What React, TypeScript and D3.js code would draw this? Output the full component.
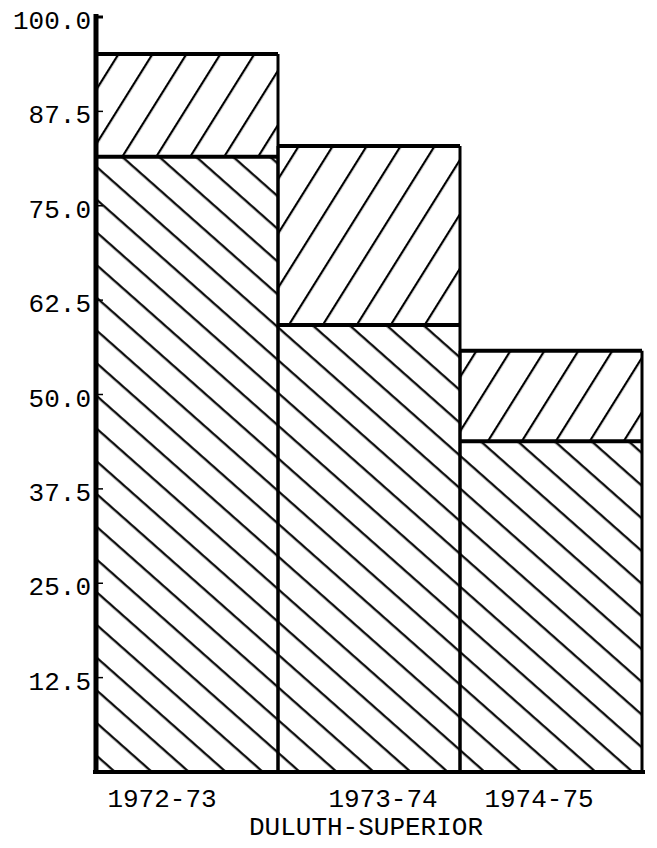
import React from 'react';
import * as d3 from 'd3';

// Duluth-Superior, three school years; lower block + upper block per bar
const categories = ['1972-73', '1973-74', '1974-75'];
const lowerValues = [81.5, 59.2, 43.8];
const totalValues = [95.1, 82.9, 55.8];
const tickValues = [12.5, 25.0, 37.5, 50.0, 62.5, 75.0, 87.5, 100.0];
const xTitle = 'DULUTH-SUPERIOR';

const W = 657;
const H = 848;
const margin = {top: 17, right: 15, bottom: 76, left: 96};
// label nudges, the typed labels were not centred under the bars
const labelShift = [-25, 14, -12];

const FONT = '"Liberation Mono", "DejaVu Sans Mono", monospace';

export default function App() {
  const x = d3
    .scaleBand<string>()
    .domain(categories)
    .range([margin.left, W - margin.right])
    .paddingInner(0)
    .paddingOuter(0);
  const y = d3
    .scaleLinear()
    .domain([0, 100])
    .range([H - margin.bottom, margin.top]);

  const base = y(0);

  return (
    <svg
      width={W}
      height={H}
      style={{position: 'absolute', left: 0, top: 0, background: '#fff'}}
    >
      <defs>
        <pattern
          id="hatch-back"
          patternUnits="userSpaceOnUse"
          width={24.5}
          height={24.5}
          patternTransform="rotate(41.5)"
        >
          <line x1={0} y1={12} x2={24.5} y2={12} stroke="#000" strokeWidth={2.2} />
        </pattern>
        <pattern
          id="hatch-fwd"
          patternUnits="userSpaceOnUse"
          width={28.8}
          height={28.8}
          patternTransform="rotate(-58)"
        >
          <line x1={0} y1={14} x2={28.8} y2={14} stroke="#000" strokeWidth={2.2} />
        </pattern>
      </defs>

      {/* bars */}
      {categories.map((c, i) => {
        const x0 = x(c) as number;
        const bw = x.bandwidth();
        const yl = y(lowerValues[i]);
        const yt = y(totalValues[i]);
        return (
          <g key={c}>
            <rect x={x0} y={yl} width={bw} height={base - yl} fill="url(#hatch-back)" />
            <rect x={x0} y={yt} width={bw} height={yl - yt} fill="url(#hatch-fwd)" />
            <line x1={x0} y1={yt} x2={x0} y2={base} stroke="#000" strokeWidth={3} />
            <line x1={x0 + bw} y1={yt} x2={x0 + bw} y2={base} stroke="#000" strokeWidth={3} />
            <line x1={x0} y1={yt} x2={x0 + bw} y2={yt} stroke="#000" strokeWidth={4} />
            <line x1={x0} y1={yl} x2={x0 + bw} y2={yl} stroke="#000" strokeWidth={4} />
          </g>
        );
      })}

      {/* axes */}
      <line
        x1={margin.left}
        y1={y(100) - 3}
        x2={margin.left}
        y2={base + 2}
        stroke="#000"
        strokeWidth={5}
      />
      <line
        x1={margin.left - 3}
        y1={base}
        x2={W - margin.right + 3}
        y2={base}
        stroke="#000"
        strokeWidth={4}
      />
      {tickValues.map((v) => (
        <g key={v}>
          <line
            x1={margin.left}
            y1={y(v)}
            x2={margin.left + 7}
            y2={y(v)}
            stroke="#000"
            strokeWidth={v === 100 ? 3 : 1.5}
          />
          <text
            x={margin.left - 5}
            y={y(v) + 3}
            dy="0.35em"
            textAnchor="end"
            fontFamily={FONT}
            fontSize={26}
            fill="#000"
          >
            {v.toFixed(1)}
          </text>
        </g>
      ))}

      {/* category labels */}
      {categories.map((c, i) => (
        <text
          key={c}
          x={(x(c) as number) + x.bandwidth() / 2 + labelShift[i]}
          y={base + 35}
          textAnchor="middle"
          fontFamily={FONT}
          fontSize={26}
          fill="#000"
        >
          {c}
        </text>
      ))}
      <text
        x={366}
        y={base + 63}
        textAnchor="middle"
        fontFamily={FONT}
        fontSize={26}
        fill="#000"
      >
        {xTitle}
      </text>
    </svg>
  );
}
